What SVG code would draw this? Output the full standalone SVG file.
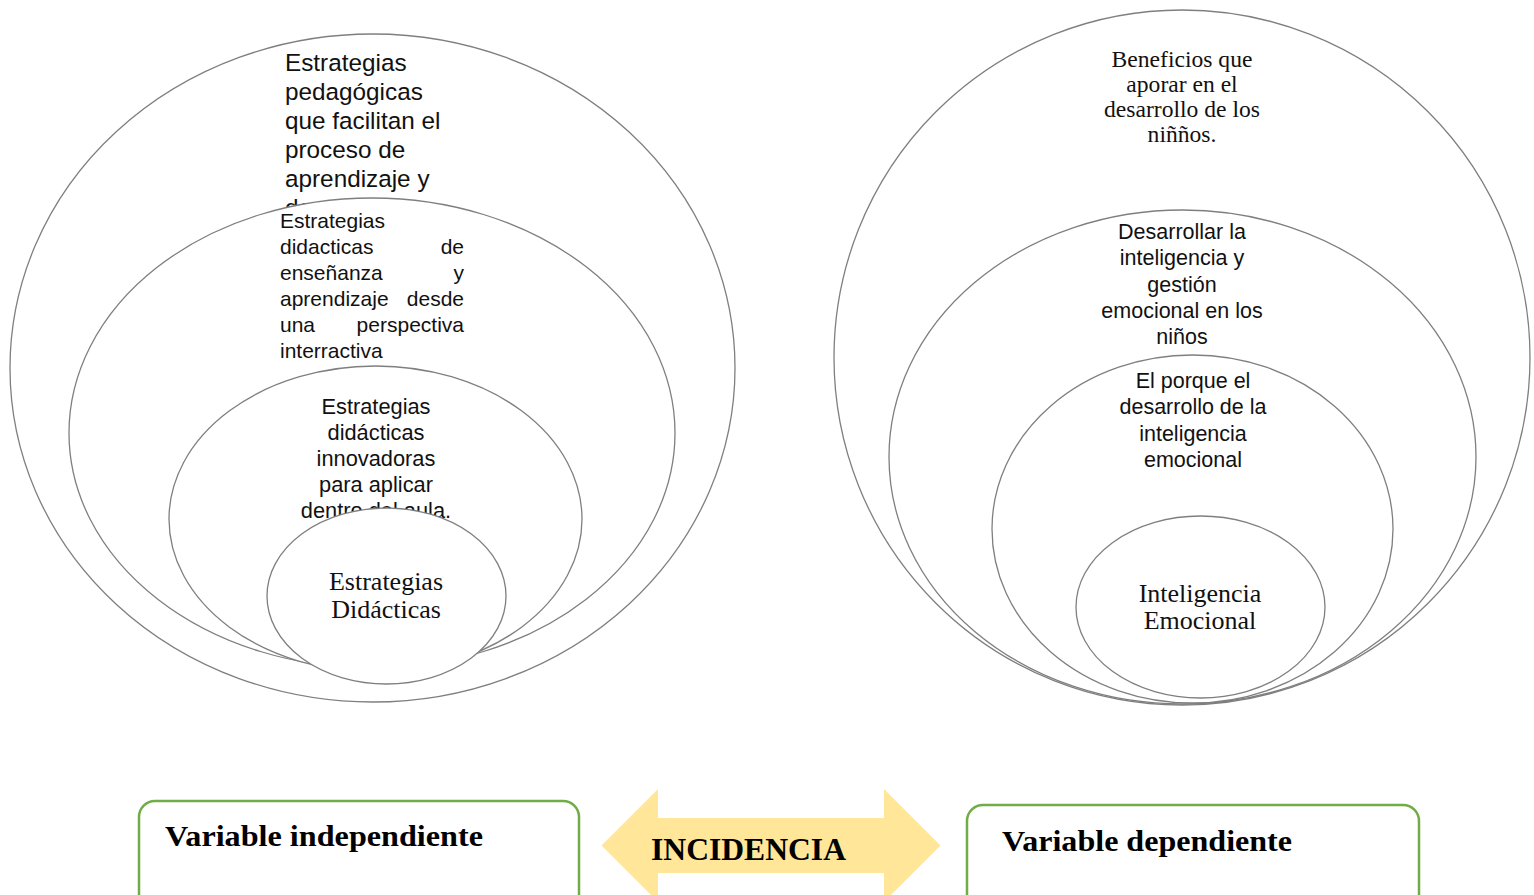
<svg xmlns="http://www.w3.org/2000/svg" width="1534" height="895" viewBox="0 0 1534 895">
<style>
.ell{fill:#ffffff;stroke:#7f7f7f;stroke-width:1.3}
.sans{font-family:"Liberation Sans",Arial,sans-serif;fill:#111}
.serif{font-family:"Liberation Serif","Times New Roman",serif;fill:#111}
.box{fill:#ffffff;stroke:#70AD47;stroke-width:2.5}
.bold{font-family:"Liberation Serif","Times New Roman",serif;font-weight:bold;fill:#000}
</style>
<rect width="1534" height="895" fill="#ffffff"/>
<g id="left-outer">
<ellipse class="ell" cx="372.5" cy="368" rx="362.5" ry="334"/>
<text class="sans" font-size="24.3"><tspan x="285" y="71">Estrategias</tspan><tspan x="285" y="100">pedagógicas</tspan><tspan x="285" y="129">que facilitan el</tspan><tspan x="285" y="158">proceso de</tspan><tspan x="285" y="187">aprendizaje y</tspan><tspan x="285" y="216">desarrollo</tspan></text>
</g>
<g id="left-second">
<ellipse class="ell" cx="372" cy="433" rx="303" ry="235"/>
<text class="sans" font-size="21"><tspan x="280" y="228">Estrategias</tspan><tspan x="280" y="254">didacticas</tspan><tspan x="280" y="280">enseñanza</tspan><tspan x="280" y="306">aprendizaje</tspan><tspan x="280" y="332">una</tspan><tspan x="280" y="358">interractiva</tspan></text>
<text class="sans" font-size="21" text-anchor="end"><tspan x="464" y="254">de</tspan><tspan x="464" y="280">y</tspan><tspan x="464" y="306">desde</tspan><tspan x="464" y="332">perspectiva</tspan></text>
</g>
<g id="left-third">
<ellipse class="ell" cx="375.5" cy="519" rx="206.5" ry="153"/>
<text class="sans" font-size="21.8" text-anchor="middle"><tspan x="376" y="414">Estrategias</tspan><tspan x="376" y="440">didácticas</tspan><tspan x="376" y="466">innovadoras</tspan><tspan x="376" y="492">para aplicar</tspan><tspan x="376" y="518">dentro del aula.</tspan></text>
</g>
<g id="left-inner">
<ellipse class="ell" cx="386.5" cy="596" rx="119.5" ry="88"/>
<text class="serif" font-size="26" text-anchor="middle"><tspan x="386" y="590">Estrategias</tspan><tspan x="386" y="618">Didácticas</tspan></text>
</g>
<g id="right-outer">
<ellipse class="ell" cx="1182" cy="357.5" rx="348" ry="347.5"/>
<text class="serif" font-size="23.6" text-anchor="middle"><tspan x="1182" y="67">Beneficios que</tspan><tspan x="1182" y="92">aporar en el</tspan><tspan x="1182" y="117">desarrollo de los</tspan><tspan x="1182" y="142">niñños.</tspan></text>
</g>
<g id="right-second">
<ellipse class="ell" cx="1182.5" cy="457" rx="293.5" ry="247"/>
<text class="sans" font-size="21.5" text-anchor="middle"><tspan x="1182" y="239">Desarrollar la</tspan><tspan x="1182" y="265">inteligencia y</tspan><tspan x="1182" y="292">gestión</tspan><tspan x="1182" y="318">emocional en los</tspan><tspan x="1182" y="344">niños</tspan></text>
</g>
<g id="right-third">
<ellipse class="ell" cx="1192.5" cy="529" rx="200.5" ry="174"/>
<text class="sans" font-size="21.5" text-anchor="middle"><tspan x="1193" y="388">El porque el</tspan><tspan x="1193" y="414">desarrollo de la</tspan><tspan x="1193" y="441">inteligencia</tspan><tspan x="1193" y="467">emocional</tspan></text>
</g>
<g id="right-inner">
<ellipse class="ell" cx="1200.5" cy="607" rx="124.5" ry="91"/>
<text class="serif" font-size="26" text-anchor="middle"><tspan x="1200" y="602">Inteligencia</tspan><tspan x="1200" y="629">Emocional</tspan></text>
</g>
<g id="box-independiente">
<rect class="box" x="139" y="801" width="440" height="110" rx="16"/>
<text class="bold" x="165" y="846" font-size="30" textLength="318" lengthAdjust="spacingAndGlyphs">Variable independiente</text>
</g>
<g id="box-dependiente">
<rect class="box" x="967" y="805" width="452" height="110" rx="16"/>
<text class="bold" x="1002" y="851" font-size="30" textLength="290" lengthAdjust="spacingAndGlyphs">Variable dependiente</text>
</g>
<g id="connectors">
<g id="incidencia-arrow">
<polygon points="601.5,845.5 658,789 658,818 884,818 884,789 940.5,845.5 884,902 884,873 658,873 658,902" fill="#FFE699"/>
<text class="bold" x="651" y="860" font-size="31" textLength="195" lengthAdjust="spacingAndGlyphs">INCIDENCIA</text>
</g>
</g>
</svg>
